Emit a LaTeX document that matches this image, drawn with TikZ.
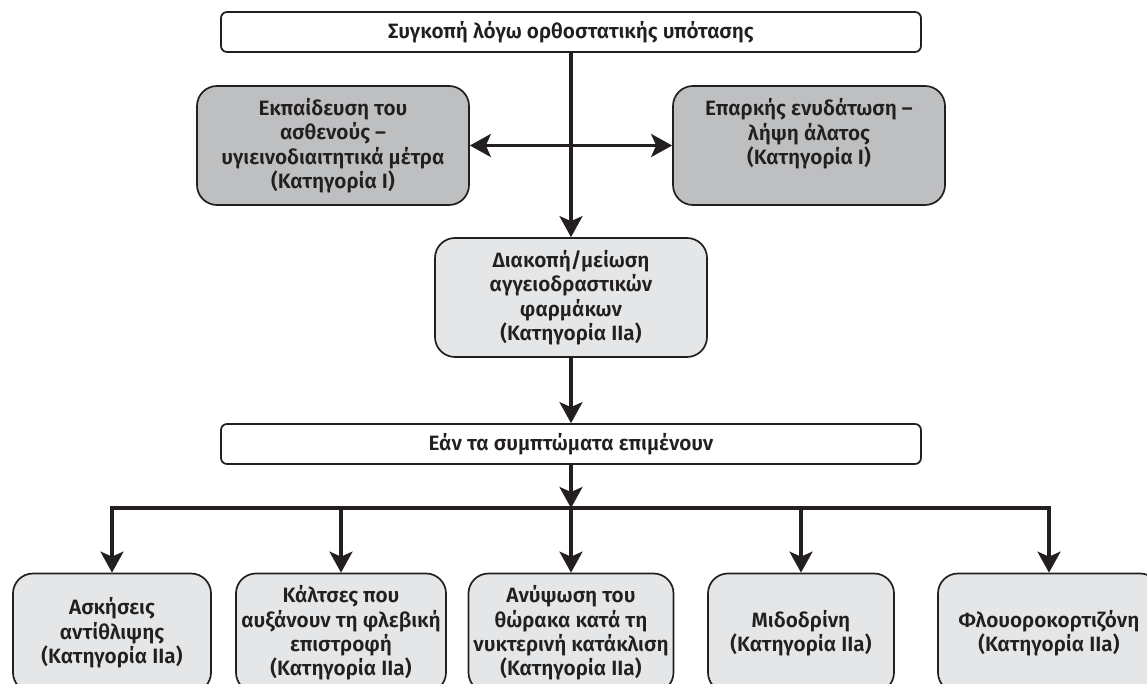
\documentclass[tikz,border=0pt]{standalone}
\usepackage{fontspec}
\setmainfont{Fira Sans}[BoldFont={* SemiBold}]
\usetikzlibrary{arrows.meta}
\definecolor{boxdark}{RGB}{190,191,193}
\definecolor{boxlight}{RGB}{229,230,231}
\definecolor{inkcol}{RGB}{35,31,32}
\tikzset{
  every node/.style={font=\bfseries\fontsize{11.8}{13.9}\selectfont, text=inkcol, align=center},
  flatbox/.style={draw=inkcol, line width=0.34mm, fill=white, rounded corners=1.2mm, minimum height=8mm},
  roundbox/.style={draw=inkcol, line width=0.34mm, rounded corners=4mm, minimum height=23.8mm, inner sep=0pt},
  arr/.style={draw=inkcol, line width=0.62mm, -{Stealth[length=4.2mm,width=4.6mm,inset=1mm]}}
}
\begin{document}
\begin{tikzpicture}[x=0.2mm,y=-0.2mm]
        \useasboundingbox (0,0) rectangle (1147,684);
        \node[flatbox, minimum width=140mm] (synk) at (571,32) {Συγκοπή λόγω ορθοστατικής υπότασης};
        \node[roundbox, fill=boxdark, minimum width=54.4mm] (ekp) at (333,145.5) {Εκπαίδευση του\\ασθενούς –\\υγιεινοδιαιτητικά μέτρα\\(Κατηγορία I)};
        \node[roundbox, fill=boxdark, minimum width=54.4mm] (enyd) at (809,145.5) {Επαρκής ενυδάτωση –\\λήψη άλατος\\(Κατηγορία I)\\\phantom{(}};
        \node[roundbox, fill=boxlight, minimum width=54.4mm] (diak) at (571,297.5) {Διακοπή/μείωση\\αγγειοδραστικών\\φαρμάκων\\(Κατηγορία IIa)};
        \node[flatbox, minimum width=140mm] (epim) at (571,444) {Εάν τα συμπτώματα επιμένουν};
        \node[roundbox, fill=boxlight, minimum width=39.6mm] (askis) at (112,633) {Ασκήσεις\\αντίθλιψης\\(Κατηγορία IIa)};
        \node[roundbox, fill=boxlight, minimum width=42mm] (kalts) at (341,633) {Κάλτσες που\\αυξάνουν τη φλεβική\\επιστροφή\\(Κατηγορία IIa)};
        \node[roundbox, fill=boxlight, minimum width=41mm] (anyps) at (571,633) {Ανύψωση του\\θώρακα κατά τη\\νυκτερινή κατάκλιση\\(Κατηγορία IIa)};
        \node[roundbox, fill=boxlight, minimum width=37.2mm] (midod) at (801,633) {Μιδοδρίνη\\(Κατηγορία IIa)};
        \node[roundbox, fill=boxlight, minimum width=44.4mm] (fluor) at (1049,633) {Φλουοροκορτιζόνη\\(Κατηγορία IIa)};
        \coordinate (split) at (571,145.5);
        \coordinate (fan) at (571,508);
        \draw [arr] (synk) -- (diak);
        \draw [arr] (split) -- (ekp);
        \draw [arr] (split) -- (enyd);
        \draw [arr] (diak) -- (epim);
        \draw [arr] (epim) -- (fan);
        \foreach \n in {askis,kalts,anyps,midod,fluor}
            \draw [arr] (fan) -| (\n);
    \end{tikzpicture}
\end{document}
